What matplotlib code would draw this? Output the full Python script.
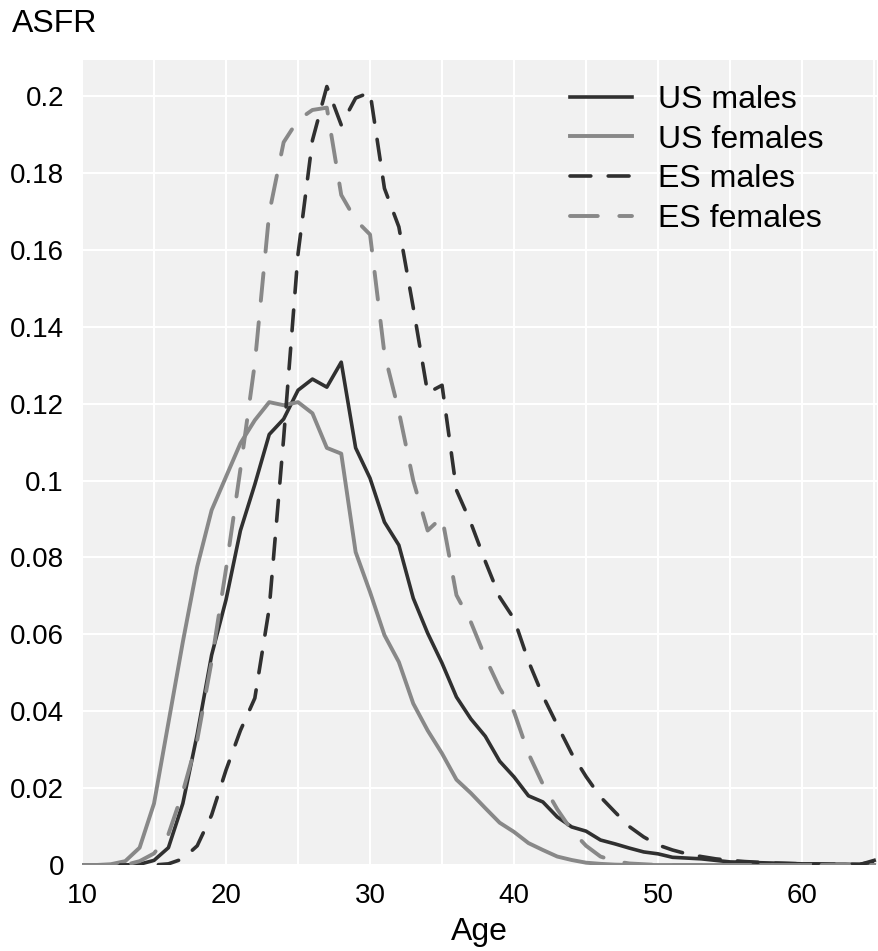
import matplotlib
matplotlib.use('Agg')
import matplotlib.pyplot as plt
from matplotlib.ticker import FuncFormatter, MultipleLocator

plt.rcParams['font.family'] = ['Liberation Sans', 'DejaVu Sans']
plt.rcParams['lines.scale_dashes'] = False

# ages 10..65
ages = list(range(10, 66))

us_males = [0, 0, 0, 0, 0.0002, 0.0012, 0.0045, 0.016, 0.034, 0.0546,
            0.069, 0.087, 0.099, 0.112, 0.116, 0.1235, 0.1264, 0.1243, 0.1308, 0.1085,
            0.1006, 0.0892, 0.0832, 0.0694, 0.0603, 0.0525, 0.0437, 0.038, 0.0335, 0.027,
            0.0229, 0.018, 0.0164, 0.0125, 0.0099, 0.0088, 0.0065, 0.0055, 0.0044, 0.0034,
            0.0029, 0.002, 0.0018, 0.0016, 0.0012, 0.0008, 0.0007, 0.0006, 0.0005, 0.0004,
            0.0003, 0.0003, 0.0002, 0.0002, 0.0001, 0.0012]

us_females = [0, 0, 0.0002, 0.001, 0.0045, 0.016, 0.037, 0.058, 0.0776, 0.0923,
              0.101, 0.1097, 0.1157, 0.1204, 0.1196, 0.1204, 0.1175, 0.1085, 0.107, 0.0814,
              0.071, 0.0598, 0.0528, 0.042, 0.035, 0.029, 0.0222, 0.0187, 0.0148, 0.011,
              0.0086, 0.0057, 0.0039, 0.0022, 0.0013, 0.0006, 0.0003, 0.0001, 0, 0,
              0, 0, 0, 0, 0, 0, 0, 0, 0, 0,
              0, 0, 0, 0, 0, 0]

es_males = [0, 0, 0, 0, 0, 0, 0.0003, 0.0016, 0.005, 0.013,
            0.0247, 0.035, 0.0434, 0.0668, 0.111, 0.159, 0.1885, 0.2025, 0.1925, 0.1995,
            0.201, 0.176, 0.166, 0.145, 0.1228, 0.1248, 0.0975, 0.089, 0.079, 0.0697,
            0.064, 0.053, 0.044, 0.0364, 0.029, 0.023, 0.0177, 0.0138, 0.01, 0.0073,
            0.0052, 0.0039, 0.0029, 0.0022, 0.0016, 0.0012, 0.0009, 0.0007, 0.0005, 0.0004,
            0.0003, 0.0002, 0.0002, 0.0002, 0.0002, 0.0008]

es_females = [0, 0, 0, 0, 0.001, 0.003, 0.008, 0.019, 0.0325, 0.053,
              0.077, 0.103, 0.1305, 0.1696, 0.188, 0.1938, 0.1964, 0.197, 0.1743, 0.1678,
              0.164, 0.133, 0.118, 0.1, 0.087, 0.0905, 0.0702, 0.0632, 0.054, 0.046,
              0.0398, 0.029, 0.021, 0.0145, 0.009, 0.005, 0.0022, 0.001, 0.0004, 0.0002,
              0, 0, 0, 0, 0, 0, 0, 0, 0, 0,
              0, 0, 0, 0, 0, 0]

dark = '#303030'
gray = '#888888'

fig = plt.figure(figsize=(8.79, 9.51), dpi=100)
ax = fig.add_axes([82/879, 86/951, 795/879, 805/951])
ax.set_facecolor('#f1f1f1')

ax.plot(ages, us_males, color=dark, lw=2.6, label='US males')
ax.plot(ages, us_females, color=gray, lw=2.8, label='US females')
ax.plot(ages, es_males, color=dark, lw=2.6, ls='--', dashes=(15, 12.5),
        dash_capstyle='round', label='ES males')
ax.plot(ages, es_females, color=gray, lw=2.8, ls='--', dashes=(20, 15.5),
        dash_capstyle='round', label='ES females')

ax.set_xlim(10, 65.2)
ax.set_ylim(0, 0.2094)
ax.xaxis.set_major_locator(MultipleLocator(10))
ax.xaxis.set_minor_locator(MultipleLocator(5))
ax.yaxis.set_major_locator(MultipleLocator(0.02))
ax.yaxis.set_major_formatter(FuncFormatter(lambda v, p: '%g' % round(v, 4)))
ax.grid(True, which='both', color='white', lw=1.5)
ax.set_axisbelow(True)
for s in ax.spines.values():
    s.set_visible(False)
ax.tick_params(which='both', length=0, labelsize=20, pad=13)

ax.set_xlabel('Age', fontsize=23, labelpad=6)
fig.text(12/879, 1 - 24/951, 'ASFR', fontsize=23, va='center', ha='left')

leg = ax.legend(loc='upper left', bbox_to_anchor=(570/879, 1 - 85/951),
                bbox_transform=fig.transFigure, frameon=False, fontsize=23,
                handlelength=1.95, handletextpad=0.8, labelspacing=0.3,
                borderpad=0, borderaxespad=0)

fig.savefig('out.png', dpi=100)
